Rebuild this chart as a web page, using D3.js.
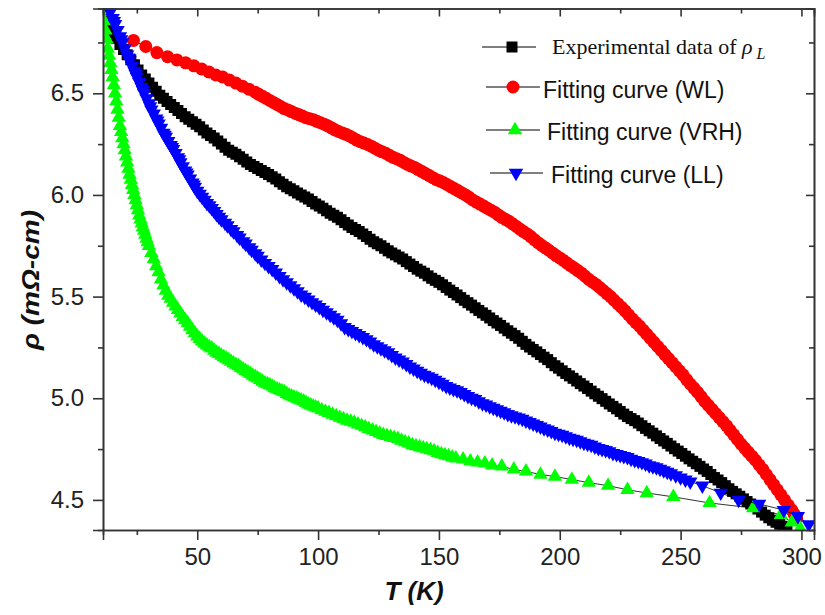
<!DOCTYPE html>
<html><head><meta charset="utf-8">
<script src="https://cdn.jsdelivr.net/npm/d3@7"></script>
<style>body{margin:0;background:#fff}</style>
</head><body>
<svg id="c" width="825" height="615"></svg>
<script>
// ---------- data ----------
const xTicks = [50, 100, 150, 200, 250, 300];
const xMinor = [25, 75, 125, 175, 225, 275];
const yTicks = [4.5, 5.0, 5.5, 6.0, 6.5];
const yMinor = [4.75, 5.25, 5.75, 6.25, 6.75];
const seriesNames = ["Experimental data of ρ", "Fitting curve (WL)", "Fitting curve (VRH)", "Fitting curve (LL)"];

// [T (K), rho (mOhm-cm)]
const expData = [[12,6.88],[13.5,6.84],[15,6.80],[16.5,6.77],[18,6.74],[19.5,6.715],[21,6.69],[22.5,6.665],[24,6.64],[25.5,6.615],[27,6.59],[28.5,6.57],[30,6.55],[31.5,6.53],[33,6.51],[34.5,6.49],[36,6.475],[37.5,6.46],[39,6.445],[40.5,6.43],[42,6.415],[43.5,6.40],[45,6.385],[46.5,6.372],[48,6.36],[49.5,6.348],[51,6.335],[52.5,6.32],[54,6.305],[55.5,6.292],[57,6.28],[58.5,6.265],[60,6.25],[61.5,6.235],[63,6.22],[64.5,6.21],[66,6.20],[67.5,6.188],[69,6.175],[70.5,6.162],[72,6.15],[73.5,6.14],[75,6.13],[76.5,6.12],[78,6.11],[79.5,6.10],[81,6.09],[82.5,6.078],[84,6.065],[85.5,6.052],[87,6.04],[88.5,6.03],[90,6.02],[91.5,6.01],[93,6.00],[94.5,5.99],[96,5.98],[97.5,5.968],[99,5.955],[100.5,5.945],[102,5.935],[103.5,5.922],[105,5.91],[106.5,5.90],[108,5.89],[109.5,5.878],[111,5.865],[112.5,5.852],[114,5.84],[115.5,5.83],[117,5.82],[118.5,5.808],[120,5.795],[121.5,5.782],[123,5.77],[124.5,5.76],[126,5.75],[127.5,5.738],[129,5.725],[130.5,5.715],[132,5.705],[133.5,5.695],[135,5.685],[136.5,5.672],[138,5.66],[139.5,5.648],[141,5.635],[142.5,5.625],[144,5.615],[145.5,5.602],[147,5.59],[148.5,5.58],[150,5.57],[151.5,5.558],[153,5.545],[154.5,5.532],[156,5.52],[157.5,5.508],[159,5.495],[160.5,5.482],[162,5.47],[163.5,5.458],[165,5.445],[166.5,5.432],[168,5.42],[169.5,5.408],[171,5.395],[172.5,5.382],[174,5.37],[175.5,5.358],[177,5.345],[178.5,5.332],[180,5.32],[181.5,5.308],[183,5.295],[184.5,5.28],[186,5.265],[187.5,5.252],[189,5.24],[190.5,5.228],[192,5.215],[193.5,5.202],[195,5.19],[196.5,5.175],[198,5.16],[199.5,5.148],[201,5.135],[202.5,5.122],[204,5.11],[205.5,5.098],[207,5.085],[208.5,5.072],[210,5.06],[211.5,5.048],[213,5.035],[214.5,5.022],[216,5.01],[217.5,4.998],[219,4.985],[220.5,4.972],[222,4.96],[223.5,4.948],[225,4.935],[226.5,4.922],[228,4.91],[229.5,4.90],[231,4.89],[232.5,4.878],[234,4.865],[235.5,4.852],[237,4.84],[238.5,4.828],[240,4.815],[241.5,4.802],[243,4.79],[244.5,4.778],[246,4.765],[247.5,4.752],[249,4.74],[250.5,4.728],[252,4.715],[253.5,4.702],[255,4.69],[256.5,4.678],[258,4.665],[259.5,4.652],[261,4.64],[262.5,4.625],[264,4.61],[265.5,4.598],[267,4.585],[268.5,4.57],[270,4.555],[271.5,4.542],[273,4.53],[274.5,4.518],[276,4.505],[277.5,4.492],[279,4.48],[280.5,4.468],[282,4.455],[283.5,4.44],[285,4.425],[286.5,4.412],[288,4.40],[289.5,4.39],[291,4.38],[292.5,4.37],[294,4.36]];

const wlData = [[23.6,6.76],[28.7,6.73],[33.3,6.70],[37.7,6.68],[41.6,6.664],[45.2,6.65],[48.6,6.635],[51.8,6.62],[54.8,6.605],[57.7,6.59],[60.5,6.58],[63.3,6.565],[66,6.55],[68.7,6.535],[71.4,6.52],[74,6.505],[75.5,6.495],[77,6.485],[78.5,6.475],[80,6.465],[81.5,6.455],[83,6.445],[84.5,6.435],[86,6.425],[87.5,6.418],[89,6.41],[90.5,6.402],[92,6.395],[93.5,6.388],[95,6.38],[96.5,6.375],[98,6.37],[99.5,6.362],[101,6.355],[102.5,6.348],[104,6.34],[105.5,6.33],[107,6.32],[108.5,6.312],[110,6.305],[111.5,6.298],[113,6.29],[114.5,6.28],[116,6.27],[117.5,6.262],[119,6.255],[120.5,6.248],[122,6.24],[123.5,6.23],[125,6.22],[126.5,6.212],[128,6.205],[129.5,6.195],[131,6.185],[132.5,6.178],[134,6.17],[135.5,6.16],[137,6.15],[138.5,6.142],[140,6.135],[141.5,6.125],[143,6.115],[144.5,6.105],[146,6.095],[147.5,6.085],[149,6.075],[150.5,6.068],[152,6.06],[153.5,6.05],[155,6.04],[156.5,6.03],[158,6.02],[159.5,6.01],[161,6.00],[162.5,5.988],[164,5.975],[165.5,5.965],[167,5.955],[168.5,5.945],[170,5.935],[171.5,5.925],[173,5.915],[174.5,5.902],[176,5.89],[177.5,5.88],[179,5.87],[180.5,5.858],[182,5.845],[183.5,5.832],[185,5.82],[186.5,5.808],[188,5.795],[189.5,5.78],[191,5.765],[192.5,5.752],[194,5.74],[195.5,5.728],[197,5.715],[198.5,5.702],[200,5.69],[201.5,5.678],[203,5.665],[204.5,5.652],[206,5.64],[207.5,5.628],[209,5.615],[210.5,5.60],[212,5.585],[213.5,5.572],[215,5.56],[216.5,5.545],[218,5.53],[219.5,5.515],[221,5.50],[222.5,5.482],[224,5.465],[225.5,5.448],[227,5.43],[228.5,5.41],[230,5.39],[231.5,5.372],[233,5.355],[234.5,5.335],[236,5.315],[237.5,5.295],[239,5.275],[240.5,5.255],[242,5.235],[243.5,5.215],[245,5.195],[246.5,5.175],[248,5.155],[249.5,5.135],[251,5.115],[252.5,5.092],[254,5.07],[255.5,5.05],[257,5.03],[258.5,5.008],[260,4.985],[261.5,4.965],[263,4.945],[264.5,4.925],[266,4.905],[267.5,4.885],[269,4.865],[270.5,4.842],[272,4.82],[273.5,4.798],[275,4.775],[276.5,4.755],[278,4.735],[279.5,4.715],[281,4.695],[282.5,4.672],[284,4.65],[285.5,4.625],[287,4.60],[288.5,4.575],[290,4.55],[291.5,4.525],[293,4.50],[294.5,4.475],[296,4.45],[297,4.43],[298,4.41]];

const vrhData = [[11,6.90],[11.5,6.855],[12,6.81],[12.5,6.765],[13,6.72],[13.5,6.685],[14,6.65],[14.5,6.615],[15,6.58],[15.5,6.54],[16,6.50],[16.5,6.46],[17,6.42],[17.5,6.38],[18,6.34],[18.5,6.31],[19,6.28],[19.5,6.25],[20,6.22],[20.5,6.19],[21,6.16],[21.5,6.13],[22,6.10],[22.5,6.075],[23,6.05],[23.5,6.025],[24,6.00],[24.5,5.975],[25,5.95],[25.5,5.925],[26,5.90],[26.5,5.88],[27,5.86],[27.5,5.842],[28,5.825],[28.5,5.805],[29,5.785],[29.5,5.768],[30,5.75],[31,5.715],[32,5.685],[33,5.65],[34,5.62],[35,5.585],[36,5.555],[37,5.53],[38,5.505],[39,5.49],[40,5.47],[41,5.452],[42,5.435],[43,5.418],[44,5.40],[45,5.385],[46,5.37],[47,5.352],[48,5.335],[49,5.32],[50,5.305],[51,5.292],[52,5.28],[53,5.27],[54,5.26],[55,5.252],[56,5.245],[57,5.235],[58,5.225],[59,5.218],[60,5.21],[61,5.202],[62,5.195],[63,5.188],[64,5.18],[65,5.172],[66,5.165],[67,5.158],[68,5.15],[69,5.142],[70,5.135],[71,5.128],[72,5.12],[73,5.112],[74,5.105],[75,5.098],[76,5.09],[77,5.082],[78,5.075],[79,5.07],[80,5.065],[81,5.058],[82,5.05],[83,5.045],[84,5.04],[85,5.035],[86,5.03],[87,5.022],[88,5.015],[89,5.01],[90,5.005],[91,5.00],[92,4.995],[93,4.99],[94,4.985],[95,4.978],[96,4.97],[97,4.965],[98,4.96],[99,4.955],[100,4.95],[101.5,4.942],[103,4.935],[104.5,4.928],[106,4.92],[107.5,4.912],[109,4.905],[110.5,4.898],[112,4.89],[113.5,4.885],[115,4.88],[116.5,4.872],[118,4.865],[119.5,4.858],[121,4.85],[122.5,4.842],[124,4.835],[125.5,4.828],[127,4.82],[128.5,4.815],[130,4.81],[131.5,4.805],[133,4.80],[134.5,4.792],[136,4.785],[137.5,4.778],[139,4.77],[140.5,4.765],[142,4.76],[143.5,4.755],[145,4.75],[146.5,4.745],[148,4.74],[149.5,4.732],[151,4.725],[152.5,4.72],[154,4.715],[155.5,4.71],[157,4.705],[160,4.70],[163,4.69],[166,4.685],[169,4.68],[172,4.67],[176,4.665],[181,4.65],[186,4.64],[192,4.625],[198,4.615],[205,4.60],[212,4.585],[220,4.57],[228,4.55],[236,4.534],[247,4.515],[262,4.485],[280,4.46],[291.5,4.426],[296,4.39],[299.5,4.36]];

const llData = [[11,6.99],[12,6.96],[12.5,6.945],[13,6.93],[14,6.90],[15,6.87],[15.5,6.855],[16,6.84],[17,6.81],[18,6.78],[18.5,6.765],[19,6.75],[20,6.72],[21,6.69],[21.5,6.675],[22,6.66],[23,6.635],[24,6.61],[24.5,6.595],[25,6.58],[26,6.555],[27,6.53],[27.5,6.515],[28,6.50],[29,6.475],[30,6.45],[30.5,6.435],[31,6.42],[32,6.40],[33,6.375],[33.5,6.365],[34,6.35],[35,6.33],[36,6.305],[36.5,6.295],[37,6.285],[38,6.265],[39,6.245],[39.5,6.235],[40,6.225],[41,6.205],[42,6.185],[42.5,6.175],[43,6.16],[44,6.14],[45,6.12],[45.5,6.11],[46,6.10],[47,6.08],[48,6.06],[48.5,6.05],[49,6.04],[50,6.02],[51,6.005],[52,5.99],[53,5.975],[54,5.96],[55,5.948],[56,5.935],[57,5.92],[58,5.905],[59,5.892],[60,5.88],[61.5,5.862],[62.5,5.85],[64,5.832],[65,5.82],[66.5,5.802],[67.5,5.79],[69,5.772],[70,5.76],[71.5,5.742],[72.5,5.73],[74,5.712],[75,5.70],[76.5,5.682],[78,5.665],[79.5,5.65],[81,5.635],[82.5,5.618],[84,5.60],[85.5,5.585],[87,5.57],[88.5,5.555],[90,5.54],[91.5,5.525],[93,5.51],[94.5,5.498],[96,5.485],[97.5,5.472],[99,5.46],[100.5,5.448],[102,5.435],[103.5,5.422],[105,5.41],[106.5,5.398],[108,5.385],[109.5,5.368],[111,5.35],[112.5,5.34],[114,5.33],[115.5,5.32],[117,5.31],[118.5,5.30],[120,5.29],[121.5,5.278],[123,5.265],[124.5,5.255],[126,5.245],[127.5,5.235],[129,5.225],[130.5,5.212],[132,5.20],[133.5,5.19],[135,5.18],[136.5,5.168],[138,5.155],[139.5,5.145],[141,5.135],[142.5,5.125],[144,5.115],[145.5,5.108],[147,5.10],[148.5,5.09],[150,5.08],[151.5,5.07],[153,5.06],[154.5,5.052],[156,5.045],[157.5,5.038],[159,5.03],[160.5,5.02],[162,5.01],[163.5,5.002],[165,4.995],[166.5,4.985],[168,4.975],[169.5,4.968],[171,4.96],[172.5,4.952],[174,4.945],[175.5,4.938],[177,4.93],[178.5,4.922],[180,4.915],[181.5,4.91],[183,4.905],[184.5,4.898],[186,4.89],[187.5,4.882],[189,4.875],[190.5,4.868],[192,4.86],[193.5,4.852],[195,4.845],[196.5,4.838],[198,4.83],[199.5,4.825],[201,4.82],[202.5,4.812],[204,4.805],[205.5,4.80],[207,4.795],[208.5,4.788],[210,4.78],[211.5,4.775],[213,4.77],[214.5,4.762],[216,4.755],[217.5,4.75],[219,4.745],[220.5,4.738],[222,4.73],[223.5,4.725],[225,4.72],[226.5,4.715],[228,4.71],[229.5,4.702],[231,4.695],[232.5,4.69],[234,4.685],[235.5,4.678],[237,4.67],[238.5,4.665],[240,4.66],[241.5,4.652],[243,4.645],[244.5,4.638],[246,4.63],[248,4.62],[250,4.61],[252,4.60],[254,4.59],[259,4.57],[266.6,4.535],[274,4.50],[282.5,4.48],[292.7,4.45],[298.5,4.42],[303,4.38]];

// ---------- chart ----------
const svg = d3.select("#c");
svg.append("rect").attr("width", 825).attr("height", 615).attr("fill", "#fff");
const L = 103, R = 814, T0 = 8.5, B = 530;
const x = d3.scaleLinear().domain([11, 305.2]).range([L, R]);
const y = d3.scaleLinear().domain([4.352, 6.917]).range([B, T0]);
const axisColor = "#333";

svg.append("defs").append("clipPath").attr("id", "clip")
  .append("rect").attr("x", L).attr("y", T0).attr("width", R - L).attr("height", B - T0);

const plot = svg.append("g").attr("clip-path", "url(#clip)");
const series = [
  {data: expData, color: "#000000", sym: d3.symbolSquare, size: 121, rot: 0},
  {data: wlData, color: "#ff0000", sym: d3.symbolCircle, size: 133, rot: 0},
  {data: vrhData, color: "#00ff00", sym: d3.symbolTriangle, size: 90, rot: 0},
  {data: llData, color: "#0000ff", sym: d3.symbolTriangle, size: 90, rot: 180}
];
series.forEach(s => {
  plot.append("path").datum(s.data)
    .attr("d", d3.line().x(d => x(d[0])).y(d => y(d[1])))
    .attr("fill", "none").attr("stroke", "#000").attr("stroke-width", 0.8);
  plot.append("g").selectAll("path").data(s.data).join("path")
    .attr("d", d3.symbol().type(s.sym).size(s.size))
    .attr("transform", d => `translate(${x(d[0])},${y(d[1])}) rotate(${s.rot})`)
    .attr("fill", s.color);
});

// axes
const fontTick = "Liberation Sans, Arial, sans-serif";
const gx = svg.append("g").attr("transform", `translate(0,${B})`)
  .call(d3.axisBottom(x).tickValues(xTicks).tickSize(10).tickPadding(8).tickFormat(d3.format("d")));
const gxm = svg.append("g").attr("transform", `translate(0,${B})`)
  .call(d3.axisBottom(x).tickValues(xMinor).tickSize(5).tickFormat(""));
const gy = svg.append("g").attr("transform", `translate(${L},0)`)
  .call(d3.axisLeft(y).tickValues(yTicks).tickSize(10).tickPadding(9).tickFormat(d3.format(".1f")));
const gym = svg.append("g").attr("transform", `translate(${L},0)`)
  .call(d3.axisLeft(y).tickValues(yMinor).tickSize(5).tickFormat(""));
// mirrored top/right (inward ticks)
const gt = svg.append("g").attr("transform", `translate(0,${T0})`)
  .call(d3.axisBottom(x).tickValues(xTicks).tickSize(8).tickFormat(""));
const gtm = svg.append("g").attr("transform", `translate(0,${T0})`)
  .call(d3.axisBottom(x).tickValues(xMinor).tickSize(5).tickFormat(""));
const gr = svg.append("g").attr("transform", `translate(${R},0)`)
  .call(d3.axisLeft(y).tickValues(yTicks).tickSize(8).tickFormat(""));
const grm = svg.append("g").attr("transform", `translate(${R},0)`)
  .call(d3.axisLeft(y).tickValues(yMinor).tickSize(5).tickFormat(""));
[gx, gxm, gy, gym, gt, gtm, gr, grm].forEach(g => {
  g.selectAll("path.domain").attr("stroke", axisColor).attr("stroke-width", 1.6);
  g.selectAll(".tick line").attr("stroke", axisColor).attr("stroke-width", 1.6);
  g.selectAll(".tick text").attr("font-family", fontTick).attr("font-size", 24).attr("fill", "#222");
});

// axis titles
svg.append("text").attr("x", 414).attr("y", 600).attr("text-anchor", "middle")
  .attr("font-family", fontTick).attr("font-size", 26).attr("font-weight", "bold").attr("font-style", "italic")
  .attr("fill", "#111").text("T (K)");
svg.append("text").attr("transform", "translate(39,280) rotate(-90)").attr("text-anchor", "middle")
  .attr("font-family", fontTick).attr("font-size", 24).attr("font-weight", "bold").attr("font-style", "italic")
  .attr("textLength", 140).attr("lengthAdjust", "spacingAndGlyphs")
  .attr("fill", "#111").text("ρ (mΩ-cm)");

// legend
const leg = [
  {x1: 482, x2: 536, mx: 512, my: 47, tx: 552, ty: 54},
  {x1: 486, x2: 540, mx: 513, my: 87, tx: 543, ty: 98},
  {x1: 486, x2: 540, mx: 515, my: 130, tx: 547, ty: 140},
  {x1: 490, x2: 543, mx: 516, my: 173, tx: 551, ty: 183}
];
leg.forEach((l, i) => {
  const s = series[i];
  svg.append("line").attr("x1", l.x1).attr("x2", l.x2).attr("y1", l.my).attr("y2", l.my)
    .attr("stroke", "#000").attr("stroke-width", 1);
  svg.append("path").attr("d", d3.symbol().type(s.sym).size(s.size))
    .attr("transform", `translate(${l.mx},${l.my}) rotate(${s.rot})`).attr("fill", s.color);
  const t = svg.append("text").attr("x", l.tx).attr("y", l.ty).attr("fill", "#111");
  if (i === 0) {
    t.attr("font-family", "Liberation Serif, Times New Roman, serif").attr("font-size", 22);
    t.append("tspan").text("Experimental data of ");
    t.append("tspan").attr("font-style", "italic").text("ρ");
    t.append("tspan").attr("font-style", "italic").attr("font-size", 16).attr("dx", 4).attr("dy", 5).text("L");
  } else {
    t.attr("font-family", fontTick).attr("font-size", 23).text(seriesNames[i]);
  }
});
</script>
</body></html>
